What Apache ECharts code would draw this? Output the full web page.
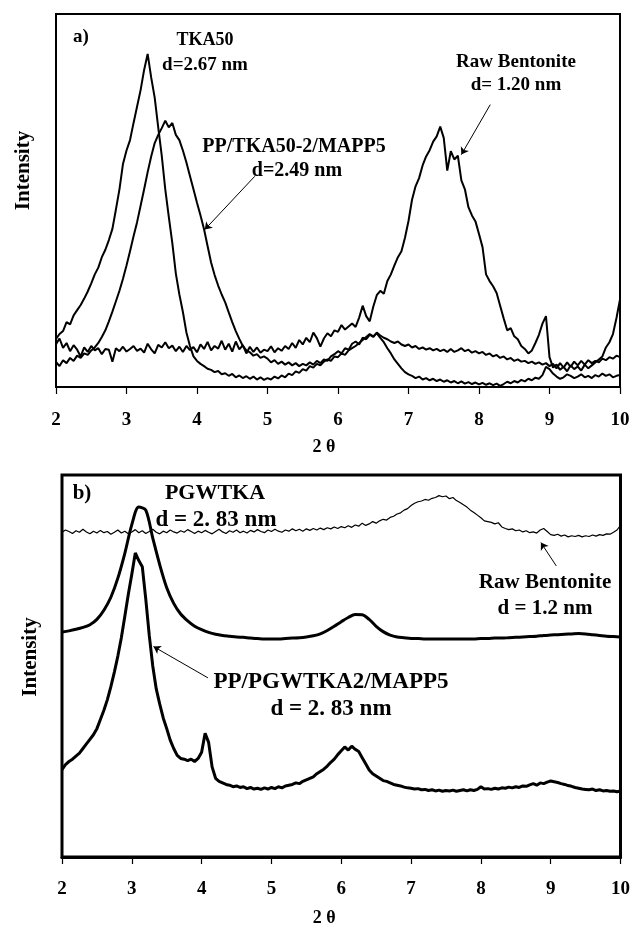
<!DOCTYPE html>
<html>
<head>
<meta charset="utf-8">
<script src="https://cdn.jsdelivr.net/npm/echarts@6/dist/echarts.min.js"></script>
<style>
html,body{margin:0;padding:0;background:#fff;}
#chart{width:633px;height:928px;}
</style>
</head>
<body>
<div id="chart"></div>
<script>
// 2-theta sampling positions (degrees)
const twoTheta = [
2.00,2.05,2.10,2.15,2.20,2.25,2.30,2.35,2.40,2.45,2.50,2.55,2.60,2.65,2.70,2.75,2.80,2.85,2.90,2.95,
3.00,3.05,3.10,3.15,3.20,3.25,3.30,3.35,3.40,3.45,3.50,3.55,3.60,3.65,3.70,3.75,3.80,3.85,3.90,3.95,
4.00,4.05,4.10,4.15,4.20,4.25,4.30,4.35,4.40,4.45,4.50,4.55,4.60,4.65,4.70,4.75,4.80,4.85,4.90,4.95,
5.00,5.05,5.10,5.15,5.20,5.25,5.30,5.35,5.40,5.45,5.50,5.55,5.60,5.65,5.70,5.75,5.80,5.85,5.90,5.95,
6.00,6.05,6.10,6.15,6.20,6.25,6.30,6.35,6.40,6.45,6.50,6.55,6.60,6.65,6.70,6.75,6.80,6.85,6.90,6.95,
7.00,7.05,7.10,7.15,7.20,7.25,7.30,7.35,7.40,7.45,7.50,7.55,7.60,7.65,7.70,7.75,7.80,7.85,7.90,7.95,
8.00,8.05,8.10,8.15,8.20,8.25,8.30,8.35,8.40,8.45,8.50,8.55,8.60,8.65,8.70,8.75,8.80,8.85,8.90,8.95,
9.00,9.05,9.10,9.15,9.20,9.25,9.30,9.35,9.40,9.45,9.50,9.55,9.60,9.65,9.70,9.75,9.80,9.85,9.90,9.95,
10.00];
const twoThetaCoarse = [
2.0,2.1,2.2,2.3,2.4,2.5,2.6,2.7,2.8,2.9,
3.0,3.1,3.2,3.3,3.4,3.5,3.6,3.7,3.8,3.9,
4.0,4.1,4.2,4.3,4.4,4.5,4.6,4.7,4.8,4.9,
5.0,5.1,5.2,5.3,5.4,5.5,5.6,5.7,5.8,5.9,
6.0,6.1,6.2,6.3,6.4,6.5,6.6,6.7,6.8,6.9,
7.0,7.1,7.2,7.3,7.4,7.5,7.6,7.7,7.8,7.9,
8.0,8.1,8.2,8.3,8.4,8.5,8.6,8.7,8.8,8.9,
9.0,9.1,9.2,9.3,9.4,9.5,9.6,9.7,9.8,9.9,
10.0];
const xTicks = [2,3,4,5,6,7,8,9,10];

// panel a) intensities (relative, 0-100)
const rawBentoniteA = [
11.5,13.0,10.5,11.8,9.6,11.2,10.0,8.2,10.6,9.4,11.0,9.8,10.4,8.8,10.2,10.0,6.8,10.4,9.6,10.8,
9.5,10.2,11.0,9.7,10.3,9.2,11.6,10.1,9.0,11.3,10.6,12.0,10.4,11.1,9.6,10.8,9.4,11.0,9.9,10.7,
9.3,11.4,10.2,12.1,9.8,11.0,10.3,12.4,10.0,11.6,9.5,12.2,10.1,11.2,9.0,10.8,9.4,10.6,9.2,10.0,
9.6,10.9,9.3,10.4,9.7,11.0,10.2,11.8,10.5,12.6,11.4,13.2,12.0,14.6,13.1,10.8,13.0,14.4,13.6,15.2,
14.8,16.6,15.4,16.2,17.0,16.1,18.6,21.8,19.0,17.6,21.5,24.6,25.8,25.0,28.4,30.2,32.6,34.8,36.4,40.0,
44.5,50.2,53.8,56.0,59.4,61.8,63.5,65.8,67.2,69.8,66.8,58.0,63.2,61.0,62.0,55.4,53.0,48.2,46.0,44.4,
41.0,37.5,30.2,28.4,27.0,25.2,21.8,18.4,15.2,15.8,13.6,12.8,11.0,10.2,9.0,9.8,11.8,14.0,17.0,19.0,
8.0,5.2,6.0,4.6,5.4,4.2,5.8,4.8,5.5,4.4,6.0,5.0,5.8,6.6,7.4,8.2,10.6,12.0,14.2,18.5,
23.5];
const tka50 = [
12.9,14.2,15.0,17.4,16.8,19.2,20.6,22.0,23.7,25.6,27.8,30.2,32.0,34.8,36.8,39.4,42.4,47.6,53.0,59.8,
63.4,66.2,70.8,75.2,79.6,85.0,89.3,83.0,77.6,69.6,62.0,53.0,45.6,38.6,30.4,24.8,20.1,14.6,11.0,8.2,
7.0,6.2,5.6,4.9,4.6,4.0,4.3,3.4,3.7,3.0,3.5,2.6,3.1,2.4,2.9,2.2,2.8,2.0,2.6,1.9,
2.4,2.0,2.8,2.3,3.1,2.6,3.6,3.2,4.2,3.8,4.8,4.4,5.6,5.2,6.2,5.8,6.8,7.4,7.0,8.2,
8.0,9.0,8.6,9.8,10.4,11.0,11.8,12.6,13.4,14.2,13.6,14.4,13.2,12.0,10.4,9.0,7.4,6.2,5.0,4.0,
3.4,3.0,2.4,2.8,2.0,2.4,1.8,2.2,1.6,2.0,1.4,1.8,1.2,1.6,1.0,1.5,0.9,1.3,0.8,1.2,
0.7,1.1,0.6,1.0,0.5,0.9,0.3,0.8,1.4,1.0,1.6,1.2,1.9,1.5,2.2,1.8,2.5,2.2,3.2,5.4,
4.8,3.6,2.8,2.2,2.6,3.4,3.0,2.4,2.8,3.4,2.6,3.0,2.4,3.2,2.8,3.6,3.0,3.4,2.6,3.0,
3.2];
const ppTka50 = [
6.7,5.6,7.2,6.4,7.8,7.0,8.4,7.8,9.0,8.6,9.8,10.6,11.8,13.4,15.2,17.6,20.2,23.0,25.8,29.0,
32.6,36.4,40.4,44.2,48.6,53.0,57.6,61.8,65.4,67.6,69.4,71.4,69.6,70.8,67.6,66.2,63.4,60.2,56.6,53.0,
49.4,46.0,42.3,37.8,33.4,30.0,27.2,24.8,22.7,20.0,17.4,15.0,12.9,11.0,9.8,9.3,8.4,8.8,7.8,8.2,
7.6,6.6,7.2,6.2,6.8,6.0,6.6,5.8,6.4,5.6,6.2,5.8,6.6,6.0,7.0,6.4,7.4,7.0,8.2,8.8,
9.6,9.0,10.4,10.0,11.6,12.2,11.4,13.2,12.8,14.0,13.4,14.6,13.8,13.2,12.8,12.2,11.8,12.2,11.4,11.0,
11.4,10.6,11.0,10.2,10.6,10.0,10.4,9.8,10.2,9.6,10.0,9.4,10.2,9.4,9.8,10.4,9.6,10.0,9.2,9.6,
9.0,9.4,8.6,9.0,8.2,8.6,7.8,8.2,7.4,7.8,7.0,7.4,6.8,7.0,6.4,6.8,6.2,6.6,6.0,6.4,
5.6,6.2,5.0,6.4,5.2,6.6,5.4,6.8,5.8,7.0,6.0,7.2,6.4,7.0,6.6,7.6,7.2,8.0,7.6,8.4,
8.0];

// panel b) intensities (relative, 0-100)
const rawBentoniteB = [
85.0,85.6,85.2,84.7,85.4,85.0,85.8,85.1,84.6,85.3,84.8,85.5,84.9,85.2,84.5,85.0,85.6,84.8,85.3,84.6,
85.1,85.7,84.9,85.4,84.7,85.2,85.8,85.0,84.6,85.3,84.9,85.6,85.1,84.8,85.4,85.0,85.7,85.2,84.7,85.3,
84.9,85.5,85.0,84.6,85.2,85.8,85.1,84.7,85.4,85.0,85.6,84.9,85.3,84.8,85.5,85.1,85.7,85.2,84.9,85.6,
85.2,85.8,85.3,85.0,85.6,85.3,85.9,85.4,85.8,85.3,85.9,85.5,86.0,85.6,86.1,85.7,86.2,85.9,86.4,86.0,
86.5,86.2,86.7,86.3,86.9,86.6,87.4,86.8,87.2,87.8,87.4,88.0,88.4,88.2,88.9,89.2,89.8,90.1,90.8,91.2,
92.0,92.6,93.0,93.2,93.6,93.4,93.9,94.1,94.6,94.3,94.5,93.8,94.1,93.3,92.8,92.2,91.6,90.8,90.2,89.5,
88.8,88.0,87.8,87.6,87.2,87.5,86.4,86.0,85.7,85.9,85.4,85.6,85.1,85.4,84.9,85.1,84.8,85.6,86.0,85.2,
84.4,84.2,84.5,84.0,84.3,83.8,84.1,83.9,84.2,83.8,84.1,83.9,84.3,84.0,84.4,84.2,84.6,84.5,85.0,85.6,
86.8];
const pgwtka = [
58.9,59.2,59.6,60.1,60.8,62.2,64.6,68.0,73.0,79.5,
87.0,91.6,90.8,83.5,76.5,70.5,66.4,63.6,61.8,60.4,
59.5,58.8,58.3,58.0,57.8,57.6,57.5,57.3,57.2,57.1,
57.1,57.1,57.2,57.3,57.4,57.6,57.9,58.4,59.3,60.4,
61.6,62.7,63.5,63.4,62.2,60.4,59.0,58.1,57.6,57.4,
57.2,57.2,57.1,57.1,57.1,57.1,57.1,57.1,57.1,57.1,
57.2,57.2,57.3,57.3,57.4,57.5,57.6,57.7,57.8,58.0,
58.1,58.2,58.3,58.4,58.5,58.4,58.2,58.0,57.8,57.7,
57.6];
const ppPgwtka = [
22.9,24.2,25.0,25.6,26.4,27.2,28.4,29.6,30.8,32.0,33.6,36.0,38.4,41.2,44.6,48.4,52.6,57.4,63.0,68.8,
74.0,79.6,77.6,76.0,67.5,58.0,50.0,44.0,40.0,36.4,33.6,30.6,28.4,26.6,25.8,25.6,25.2,25.6,25.0,25.8,
27.4,32.4,30.0,23.6,20.6,19.8,19.4,19.0,18.8,18.4,18.6,18.2,18.4,17.9,18.2,17.8,18.0,17.7,18.1,17.8,
18.2,17.9,18.4,18.1,18.6,18.8,19.0,19.4,19.2,19.8,20.2,20.6,21.0,21.8,22.4,23.0,23.8,24.8,25.6,26.8,
27.8,28.8,28.0,29.0,28.2,27.6,26.0,24.4,22.8,21.8,21.2,20.6,20.0,19.8,19.4,19.0,18.8,18.6,18.3,18.1,
18.0,17.8,17.9,17.6,17.7,17.4,17.6,17.3,17.5,17.2,17.4,17.3,17.5,17.2,17.4,17.6,17.3,17.6,17.4,17.7,
18.4,17.8,17.9,17.7,18.0,17.8,18.1,18.0,18.3,18.1,18.4,18.2,18.6,18.5,18.9,19.2,18.8,19.4,19.2,19.6,
19.9,19.7,19.5,19.2,19.0,18.7,18.5,18.2,18.0,17.8,17.7,17.6,17.8,17.4,17.6,17.3,17.4,17.2,17.3,17.1,
17.3];

// annotation arrows [x1, y1, x2, y2] in data units
const arrowA_pp = [4.82, 56.5, 4.11, 42.2];
const arrowA_raw = [8.16, 75.7, 7.75, 62.3];
const arrowB_pp = [4.09, 46.9, 3.31, 55.1];
const arrowB_raw = [9.08, 76.2, 8.86, 82.3];

const zip = (xs, ys) => xs.map((x, i) => [x, ys[i]]);
const FONT = '"Liberation Serif", "Times New Roman", serif';

function arrowLine(a) {
  return {
    silent: true,
    symbol: ['none', 'arrow'],
    symbolSize: 7,
    label: { show: false },
    lineStyle: { color: '#000', width: 1, type: 'solid' },
    data: [[{ coord: [a[0], a[1]] }, { coord: [a[2], a[3]] }]]
  };
}

function xAxisCfg(gi, lw, margin, gap, shift) {
  return {
    gridIndex: gi, type: 'value', min: 2, max: 10, interval: 1,
    name: '2 θ', nameLocation: 'middle', nameGap: gap,
    nameTextStyle: { fontFamily: FONT, fontWeight: 'bold', fontSize: 18, color: '#000',
      padding: [0, shift * 2, 0, 0] },
    axisLine: { show: true, onZero: false, lineStyle: { color: '#000', width: lw } },
    axisTick: { show: true, inside: false, length: 7, lineStyle: { color: '#000', width: 1.2 } },
    axisLabel: { show: true, margin: margin, fontFamily: FONT, fontWeight: 'bold', fontSize: 19, color: '#000',
      formatter: v => (xTicks.indexOf(v) >= 0 ? String(v) : '') },
    splitLine: { show: false }
  };
}
function yAxisCfg(gi, gap, lift) {
  return {
    gridIndex: gi, type: 'value', min: 0, max: 100,
    name: 'Intensity', nameLocation: 'middle', nameRotate: 90, nameGap: gap,
    nameTextStyle: { fontFamily: FONT, fontWeight: 'bold', fontSize: 21, color: '#000',
      padding: [0, 0, 0, lift * 2] },
    axisLine: { show: false }, axisTick: { show: false }, axisLabel: { show: false },
    splitLine: { show: false }
  };
}
function lineSeries(xi, data, w, extra) {
  return Object.assign({
    type: 'line', xAxisIndex: xi, yAxisIndex: xi, data: data,
    showSymbol: false, symbol: 'none', silent: true,
    lineStyle: { color: '#000', width: w }, z: 3
  }, extra || {});
}

function txt(x, y, s, size) {
  return { type: 'text', x: x, y: y, z: 10, style: {
    text: s, fill: '#000', font: 'bold ' + size + 'px ' + FONT,
    textAlign: 'center', textVerticalAlign: 'middle' } };
}

const chart = echarts.init(document.getElementById('chart'), null, { renderer: 'canvas' });
chart.setOption({
  animation: false,
  backgroundColor: '#fff',
  grid: [
    { left: 56, right: 13, top: 14, height: 373, show: true, borderColor: '#000', borderWidth: 2, backgroundColor: 'transparent' },
    { left: 62, right: 12, top: 475, height: 386, show: true, borderColor: '#000', borderWidth: 3, backgroundColor: 'transparent' }
  ],
  xAxis: [xAxisCfg(0, 2, 24, 51, 14), xAxisCfg(1, 3, 23, 52, 17)],
  yAxis: [yAxisCfg(0, 22, 30), yAxisCfg(1, 21, 9)],
  series: [
    lineSeries(0, zip(twoTheta, rawBentoniteA), 2, { markLine: arrowLine(arrowA_raw) }),
    lineSeries(0, zip(twoTheta, tka50), 2),
    lineSeries(0, zip(twoTheta, ppTka50), 2, { markLine: arrowLine(arrowA_pp) }),
    lineSeries(1, zip(twoTheta, rawBentoniteB), 1.2, { markLine: arrowLine(arrowB_raw) }),
    lineSeries(1, zip(twoThetaCoarse, pgwtka), 3, { smooth: 0.3 }),
    lineSeries(1, zip(twoTheta, ppPgwtka), 3, { markLine: arrowLine(arrowB_pp) })
  ],
  graphic: [
    txt(81, 37, 'a)', 19),
    txt(205, 40, 'TKA50', 18),
    txt(205, 65, 'd=2.67 nm', 19),
    txt(516, 62, 'Raw Bentonite', 19),
    txt(516, 85, 'd= 1.20 nm', 19),
    txt(294, 147, 'PP/TKA50-2/MAPP5', 20),
    txt(297, 171, 'd=2.49 nm', 20),
    txt(82, 494, 'b)', 21),
    txt(215, 493, 'PGWTKA', 22),
    txt(216, 520, 'd = 2. 83 nm', 23),
    txt(545, 583, 'Raw Bentonite', 21),
    txt(545, 609, 'd = 1.2 nm', 21),
    txt(331, 682, 'PP/PGWTKA2/MAPP5', 23),
    txt(331, 709, 'd = 2. 83 nm', 23)
  ]
});
</script>
</body>
</html>
